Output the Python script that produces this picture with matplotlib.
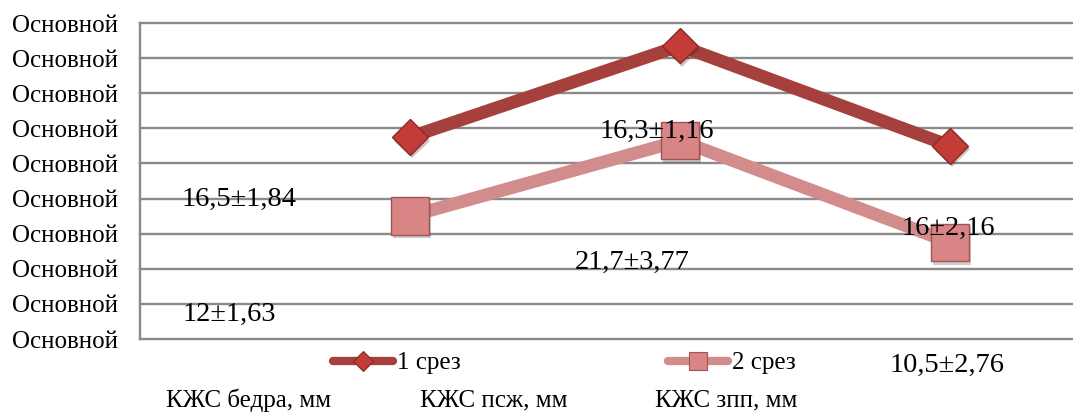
import matplotlib
matplotlib.use("Agg")
import matplotlib.pyplot as plt
from matplotlib.lines import Line2D
import matplotlib.patheffects as pe

# ---- data -------------------------------------------------------------
categories = ["КЖС бедра, мм", "КЖС псж, мм", "КЖС зпп, мм"]
series_names = ["1 срез", "2 срез"]
mean_1 = [16.5, 21.7, 16.0]
sd_1 = [1.84, 3.77, 2.16]
mean_2 = [12.0, 16.3, 10.5]
sd_2 = [1.63, 1.16, 2.76]
y_ticks = [5, 7, 9, 11, 13, 15, 17, 19, 21, 23]
y_tick_text = "Основной"

# ---- style ------------------------------------------------------------
plt.rcParams["font.family"] = ["Liberation Serif", "DejaVu Serif"]
W, H = 1073, 415
GRID = "#8a8a8a"
LINE1, FACE1, EDGE1 = "#a6403d", "#c33c37", "#8a2926"
LINE2, FACE2, EDGE2 = "#d38c8c", "#d98485", "#9c5656"
FS = 18
FS_LABEL = 20.5
LW = 9.3
LW_LEGEND = 6


def fmt(v):
    return f"{v:g}".replace(".", ",")


def px(x, y):
    """pixel position -> figure fraction"""
    return x / W, 1 - y / H


fig = plt.figure(figsize=(W / 100, H / 100), dpi=100)
ax = fig.add_axes([140 / W, 1 - 339 / H, 1 - 140 / W, (339 - 23) / H])

xpos = [1, 2, 3]
ax.set_xlim(0, (W - 140) / 270)
ax.set_ylim(y_ticks[0], y_ticks[-1])

# horizontal gridlines and the left axis
for t in y_ticks:
    ax.axhline(t, color=GRID, lw=1.7, zorder=1, clip_on=False)
for s in ["top", "right", "bottom"]:
    ax.spines[s].set_visible(False)
ax.spines["left"].set_color(GRID)
ax.spines["left"].set_linewidth(1.7)
ax.set_xticks([])
ax.set_yticks(y_ticks)
ax.set_yticklabels([y_tick_text] * len(y_ticks), fontsize=FS)
ax.tick_params(axis="y", length=0, pad=16)

shadow = [pe.SimplePatchShadow(offset=(1.5, -2.5), alpha=0.25), pe.Normal()]

# series 1
ax.plot(xpos, mean_1, color=LINE1, lw=LW, solid_joinstyle="miter", zorder=3)
ax.plot(xpos, mean_1, linestyle="none", marker="D", ms=18, mfc=FACE1, mec=EDGE1,
        mew=1, zorder=4, path_effects=shadow)
# series 2
ax.plot(xpos, mean_2, color=LINE2, lw=LW, solid_joinstyle="miter", zorder=3)
ax.plot(xpos, mean_2, linestyle="none", marker="s", ms=27, mfc=FACE2, mec=EDGE2,
        mew=1, zorder=4, path_effects=shadow)

# value labels (mean ± sd)
label_anchor_1 = [(239, 199), (632, 262), (948, 228)]
label_anchor_2 = [(229, 314), (657, 131), (947, 365)]
for m, s, (lx, ly) in zip(mean_1, sd_1, label_anchor_1):
    fig.text(*px(lx, ly), f"{fmt(m)}±{fmt(s)}", fontsize=FS_LABEL,
             ha="center", va="center", zorder=6)
for m, s, (lx, ly) in zip(mean_2, sd_2, label_anchor_2):
    fig.text(*px(lx, ly), f"{fmt(m)}±{fmt(s)}", fontsize=FS_LABEL,
             ha="center", va="center", zorder=6)

# legend
handles = [
    Line2D([], [], color=LINE1, lw=LW_LEGEND, solid_capstyle="round", marker="D",
           ms=10, mfc=FACE1, mec=EDGE1, mew=0.8),
    Line2D([], [], color=LINE2, lw=LW_LEGEND, solid_capstyle="round", marker="s",
           ms=13, mfc=FACE2, mec=EDGE2, mew=0.8),
]
fig.legend(handles, series_names, ncol=2, loc="center left",
           bbox_to_anchor=px(333, 363), frameon=False, fontsize=FS,
           handlelength=2.4, handletextpad=0.16, columnspacing=8.3,
           borderpad=0, borderaxespad=0)

# category names
cat_centers = [249, 494, 726]
for name, cx in zip(categories, cat_centers):
    fig.text(*px(cx, 400), name, fontsize=FS, ha="center", va="center")

fig.savefig("out.png", dpi=100)
